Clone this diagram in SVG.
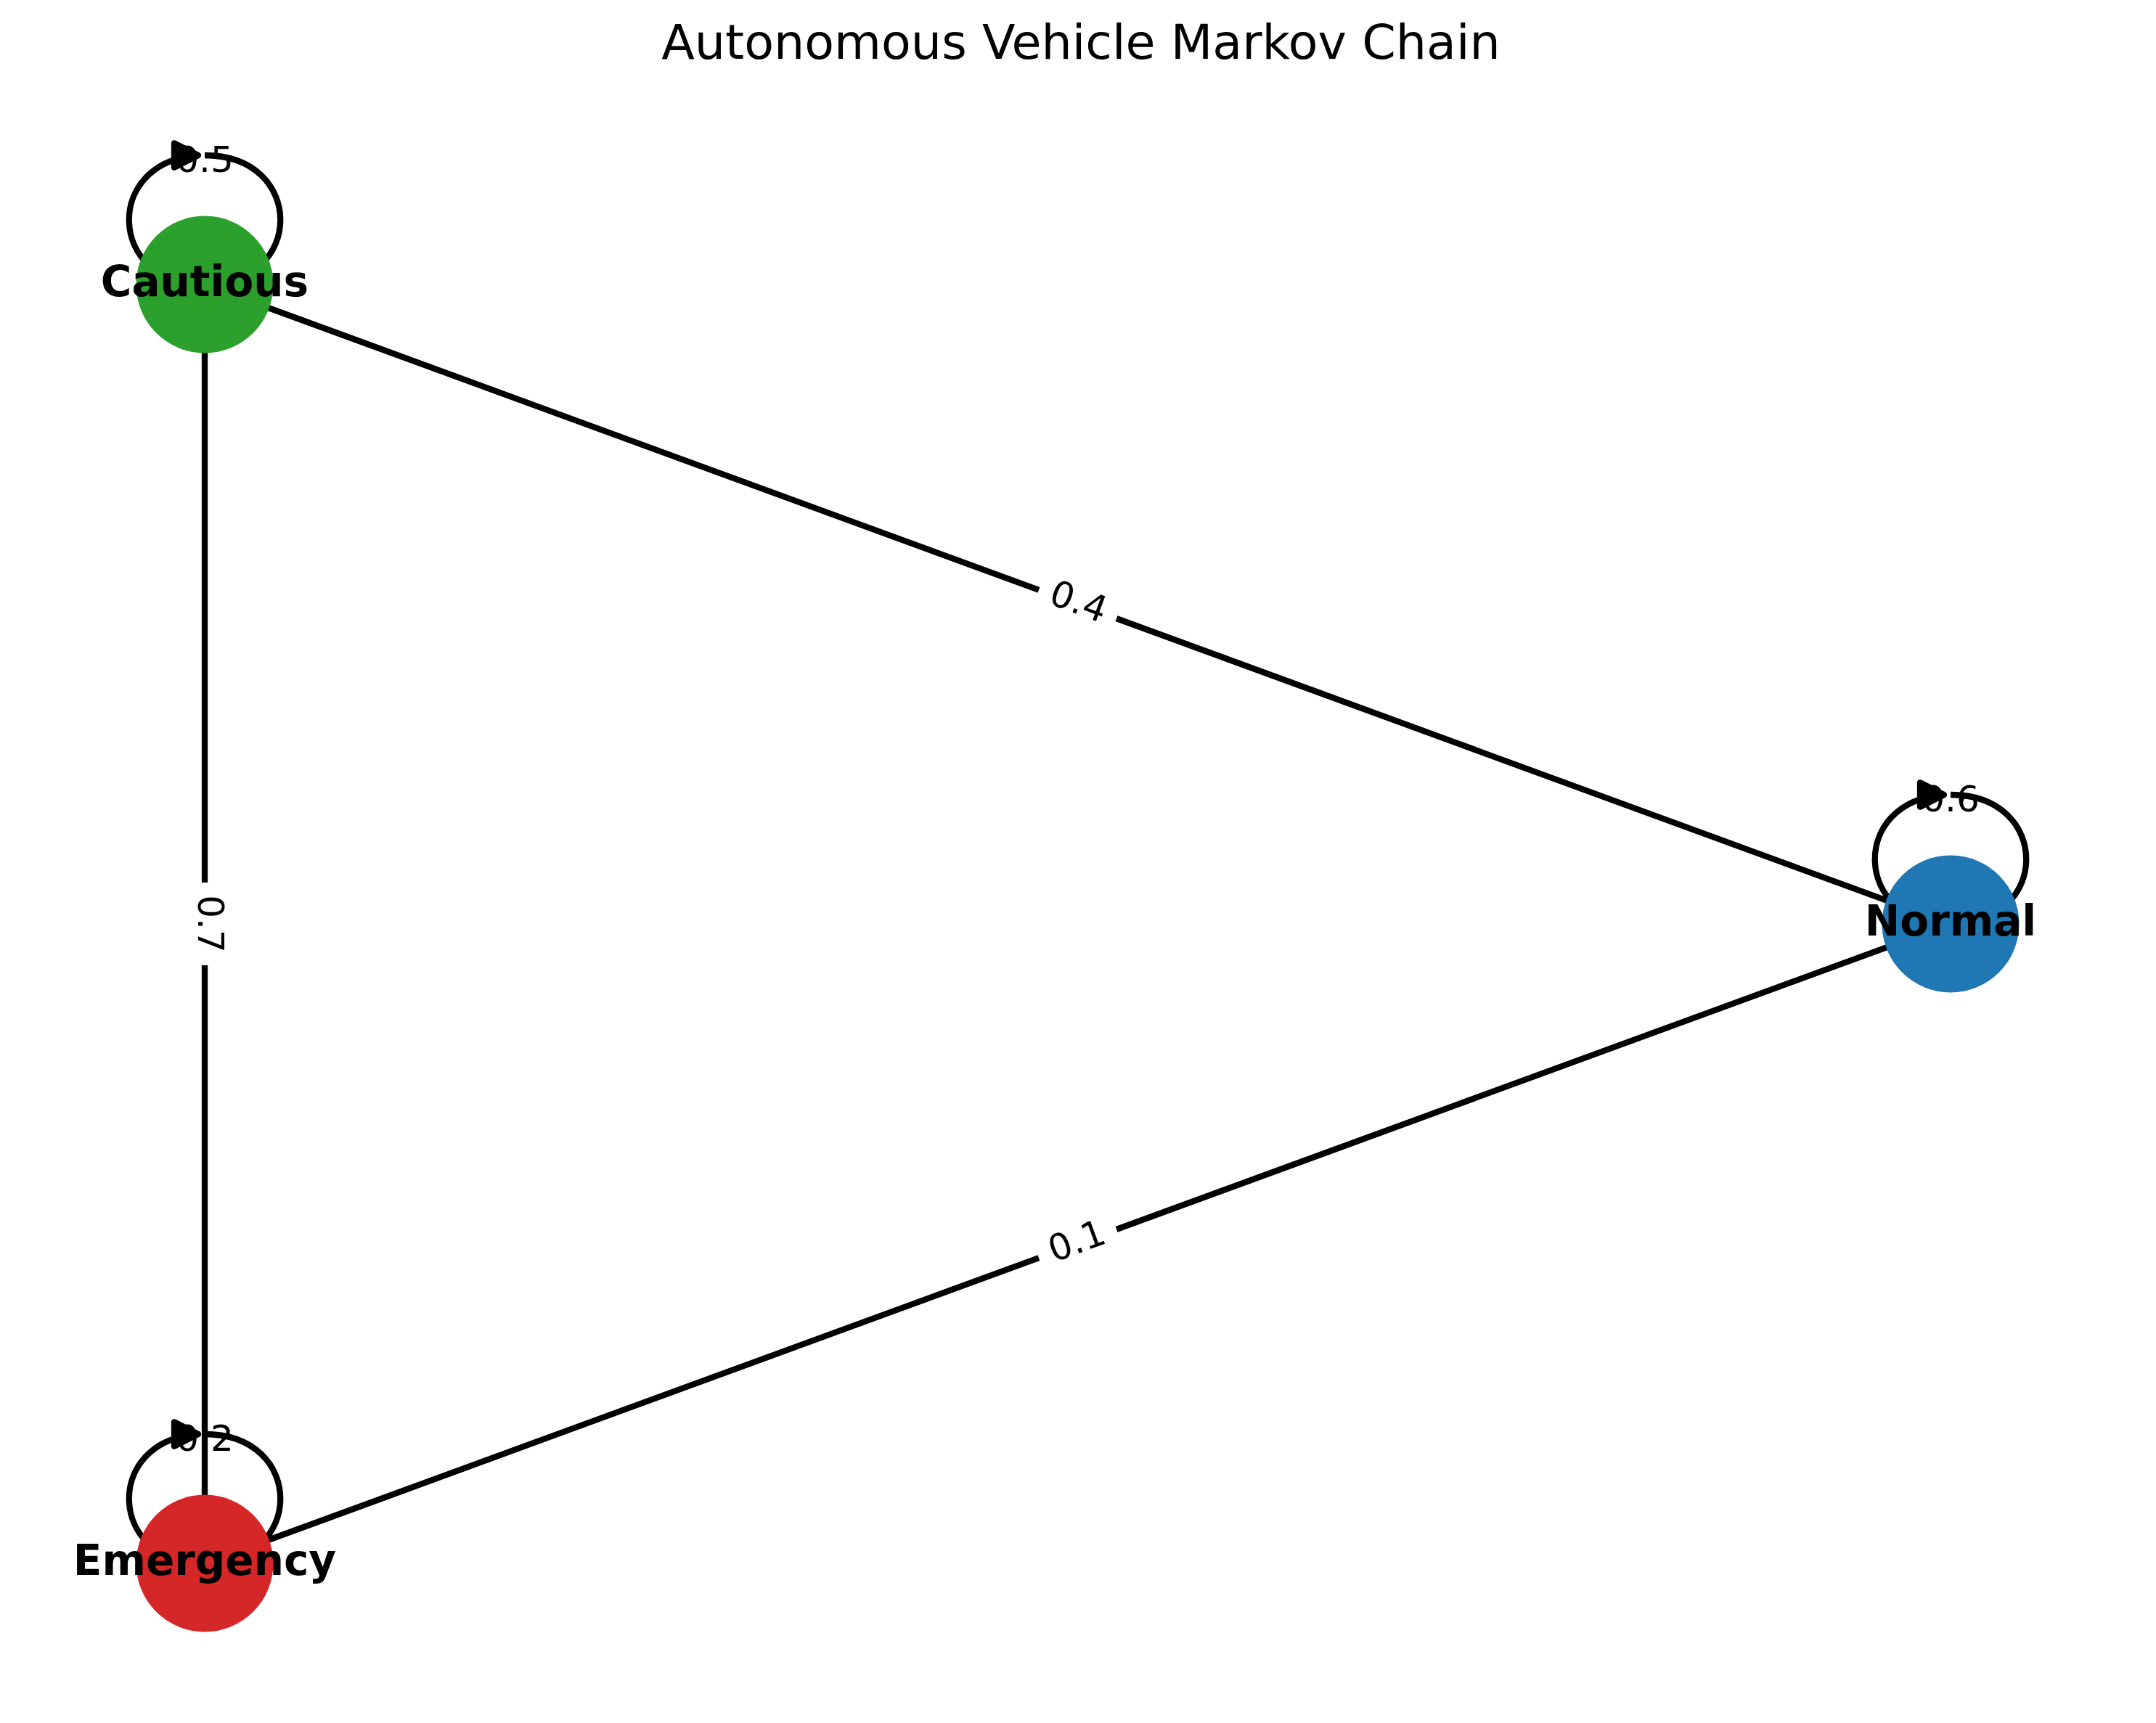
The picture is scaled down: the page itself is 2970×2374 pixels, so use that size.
<svg xmlns="http://www.w3.org/2000/svg" width="2970" height="2374" viewBox="0 0 2970 2374">
<style>
.title{font-family:"DejaVu Sans","Liberation Sans",sans-serif;font-size:66.7px;fill:#000;text-anchor:middle}
.nlab{font-family:"DejaVu Sans","Liberation Sans",sans-serif;font-size:58px;font-weight:bold;fill:#000;text-anchor:middle}
.elab{font-family:"DejaVu Sans","Liberation Sans",sans-serif;font-size:50px;fill:#000;text-anchor:middle}
.edge{fill:none;stroke:#000;stroke-width:8.3}
.head{fill:#000;stroke:#000;stroke-width:8.3;stroke-linejoin:round}
.lbox{fill:#fff;stroke:none}
</style>
<rect x="0" y="0" width="2970" height="2374" fill="#fff"/>
<text class="title" x="1489" y="81">Autonomous Vehicle Markov Chain</text>
<g id="loop-labels">
<text class="elab" x="282" y="237">0.5</text>
<text class="elab" x="2687" y="1118">0.6</text>
<text class="elab" x="282" y="1999">0.2</text>
</g>
<g id="connectors">
<line class="edge" x1="282" y1="392" x2="2687" y2="1273"/>
<line class="edge" x1="2687" y1="1273" x2="282" y2="2154"/>
<line class="edge" x1="282" y1="392" x2="282" y2="2154"/>
<path class="edge" d="M282,214 C421,214 421,392 282,392 C146.1,392 143.1,221.7 273,214.3"/>
<polygon class="head" points="273,214 240,197.3 240,230.7"/>
<path class="edge" d="M2687,1095 C2826,1095 2826,1273 2687,1273 C2551.1,1273 2548.1,1102.7 2678,1095.3"/>
<polygon class="head" points="2678,1095 2645,1078.3 2645,1111.7"/>
<path class="edge" d="M282,1976 C421,1976 421,2154 282,2154 C146.1,2154 143.1,1983.7 273,1976.3"/>
<polygon class="head" points="273,1976 240,1959.3 240,1992.7"/>
</g>
<g id="node-cautious">
<circle cx="282" cy="392" r="94.5" fill="#2ca02c"/>
<text class="nlab" x="282" y="408">Cautious</text>
</g>
<g id="node-normal">
<circle cx="2687" cy="1273" r="94.5" fill="#1f77b4"/>
<text class="nlab" x="2687" y="1289">Normal</text>
</g>
<g id="node-emergency">
<circle cx="282" cy="2154" r="94.5" fill="#d62728"/>
<text class="nlab" x="282" y="2170">Emergency</text>
</g>
<g id="edge-labels">
<g transform="translate(1484.5,832.5) rotate(20.12)">
<rect class="lbox" x="-57" y="-36" width="114" height="72" rx="15"/>
<text class="elab" x="0" y="13">0.4</text>
</g>
<g transform="translate(282,1273) rotate(90)">
<rect class="lbox" x="-57" y="-36" width="114" height="72" rx="15"/>
<text class="elab" x="0" y="9">0.7</text>
</g>
<g transform="translate(1484.5,1713.5) rotate(-20.12)">
<rect class="lbox" x="-57" y="-36" width="114" height="72" rx="15"/>
<text class="elab" x="0" y="13">0.1</text>
</g>
</g>
</svg>
